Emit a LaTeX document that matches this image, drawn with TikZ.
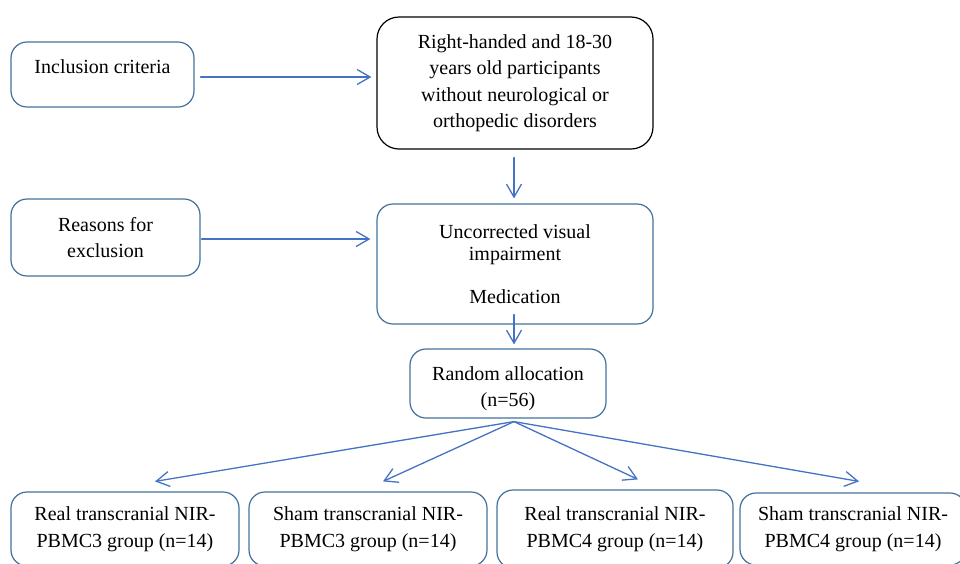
\documentclass[tikz,border=0pt]{standalone}
\usepackage{fontspec}
\setmainfont{Liberation Serif}
\usetikzlibrary{arrows.meta}
\begin{document}
\begin{tikzpicture}[x=1pt,y=-1pt,line join=round,line cap=round]%flow
            \definecolor{vien}{RGB}{65,113,156}
            \definecolor{muiten}{RGB}{68,114,196}
            \tikzset{
                box/.style={draw=vien,line width=1.2pt,rounded corners=16pt,align=center,inner sep=0pt,
                    font=\fontsize{20}{26.5}\selectfont},
                boxk/.style={box,draw=black,rounded corners=22pt},
                arr/.style={draw=muiten,line width=1.3pt,-{Straight Barb[length=13pt,width=15pt]}}
            }
            \newcommand\dn[1]{\raisebox{-5pt}[\height][\depth]{#1}}
            \useasboundingbox (0,0) rectangle (960,563);
            \clip (0,0) rectangle (960,563);
            \node[box,minimum width=183,minimum height=65,text height=14pt,text depth=17pt] (incl) at (102.5,74.5) {Inclusion criteria};
            \node[boxk,minimum width=276,minimum height=132] (crit) at (515,83)
                {Right-handed and 18-30\\years old participants\\without neurological or\\orthopedic disorders};
            \node[box,minimum width=189,minimum height=77] (excl) at (105.5,237.5) {Reasons for\\exclusion};
            \node[box,minimum width=276,minimum height=120] (unc) at (515,264)
                {Uncorrected visual\\[-4.5pt]impairment\\[17pt]Medication};
            \node[box,minimum width=196,minimum height=69] (rand) at (508,383.5) {\dn{Random allocation}\\\dn{(n=56)}};
            \node[box,minimum width=228,minimum height=74] (g1) at (125,529) {Real transcranial NIR-\\PBMC3 group (n=14)};
            \node[box,minimum width=238,minimum height=74] (g2) at (368,529) {Sham transcranial NIR-\\PBMC3 group (n=14)};
            \node[box,minimum width=236,minimum height=78] (g3) at (615,529) {Real transcranial NIR-\\PBMC4 group (n=14)};
            \node[box,minimum width=226,minimum height=72] (g4) at (853,529) {Sham transcranial NIR-\\PBMC4 group (n=14)};
            \coordinate (fan) at ([xshift=6pt,yshift=-3pt]rand.south);
            \draw[arr,shorten <=6pt,shorten >=5pt] ([yshift=-2.5pt]incl.east) -- ([yshift=-2.5pt]incl.east -| crit.west);
            \draw[arr,shorten <=8pt,shorten >=5pt] ([xshift=-1pt]crit.south) -- ([xshift=-1pt]unc.north);
            \draw[arr,shorten <=1pt,shorten >=6pt] ([yshift=-1.5pt]excl.east) -- ([yshift=-1.5pt]excl.east -| unc.west);
            \draw[arr,shorten >=4pt] ([xshift=-1pt,yshift=10pt]unc.south) -- ([xshift=-1pt]unc.south |- rand.north);
            \draw[arr] (fan) -- ([xshift=30pt,yshift=10pt]g1.north);
            \draw[arr] (fan) -- ([xshift=15pt,yshift=10pt]g2.north);
            \draw[arr] (fan) -- ([xshift=23pt,yshift=10pt]g3.north);
            \draw[arr] (fan) -- ([xshift=6pt,yshift=11pt]g4.north);
\end{tikzpicture}
\end{document}
